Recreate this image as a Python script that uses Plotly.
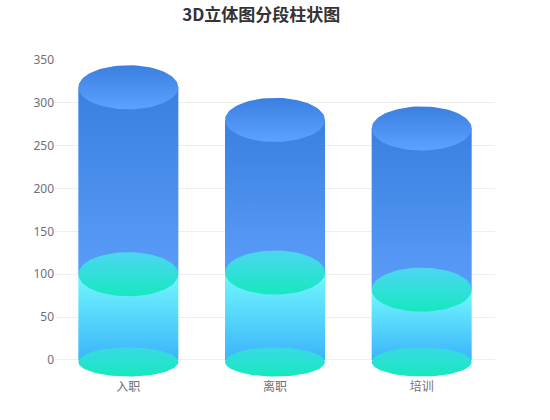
import numpy as np
import plotly.graph_objects as go

# data
categories = ['入职', '离职', '培训']
base_values = [100, 102, 82]      # lower (cyan) segment
upper_values = [218, 178, 188]    # upper (blue) segment
y_ticks = [0, 50, 100, 150, 200, 250, 300, 350]

# look
Y_MIN, Y_MAX = -21, 351
RX = 0.341          # half bar width, in category units
RY_CAP = 25.7       # cap ellipse half height, in y units
RY_BASE = 17
BASE_SHIFT = -2.3

UPPER_SIDE = ['#5a9cf8', '#3a80e0']   # [bottom, top]
UPPER_CAP = ['#5ca2ff', '#3b7fe0']
LOWER_SIDE = ['#3bb4fb', '#72f8fd']
MID_CAP = ['#16e8bf', '#4dd6f2']
BASE_CAP = ['#16e9bd', '#3ad9e6']


def grad(c):
    return dict(type='vertical', colorscale=[[0, c[0]], [1, c[1]]])


def side(xc, y0, y1, colors):
    return go.Scatter(x=[xc - RX, xc + RX, xc + RX, xc - RX, xc - RX],
                      y=[y0, y0, y1, y1, y0],
                      mode='lines', line=dict(width=0), fill='toself',
                      fillgradient=grad(colors), hoverinfo='skip',
                      showlegend=False)


def cap(xc, yc, ry, colors):
    t = np.linspace(0, 2 * np.pi, 90)
    return go.Scatter(x=xc + RX * np.cos(t), y=yc + ry * np.sin(t),
                      mode='lines', line=dict(width=0), fill='toself',
                      fillgradient=grad(colors), hoverinfo='skip',
                      showlegend=False)


fig = go.Figure()
for i, cat in enumerate(categories):
    b = base_values[i]
    tot = b + upper_values[i]
    fig.add_trace(side(i, 0, b, LOWER_SIDE))
    fig.add_trace(side(i, b, tot, UPPER_SIDE))
    fig.add_trace(cap(i, BASE_SHIFT, RY_BASE, BASE_CAP))
    fig.add_trace(cap(i, b, RY_CAP, MID_CAP))
    fig.add_trace(cap(i, tot, RY_CAP, UPPER_CAP))

fig.update_layout(
    title=dict(text='<b>3D立体图分段柱状图</b>', x=0.475, xanchor='center',
               y=0.965, yanchor='middle',
               font=dict(family='Noto Sans CJK SC', size=17, color='#333333')),
    xaxis=dict(range=[-0.5, len(categories) - 0.5],
               tickvals=list(range(len(categories))), ticktext=categories,
               showgrid=False, zeroline=False, showline=False, ticks='',
               tickfont=dict(family='Noto Sans CJK SC', size=12, color='#6e7079')),
    yaxis=dict(range=[Y_MIN, Y_MAX], tickvals=y_ticks,
               showgrid=True, gridcolor='#eeeeee', gridwidth=1,
               zeroline=False, showline=False, ticks='',
               tickfont=dict(family='Noto Sans', size=12, color='#6e7079')),
    plot_bgcolor='white', paper_bgcolor='white',
    margin=dict(l=55, r=55, t=59, b=42),
    width=550, height=420, showlegend=False)

# the page has a default 8px body margin; drop it so the figure sits at 0,0
fig.write_html('out.html', config={'displayModeBar': False},
               post_script="document.body.style.margin='0';")
